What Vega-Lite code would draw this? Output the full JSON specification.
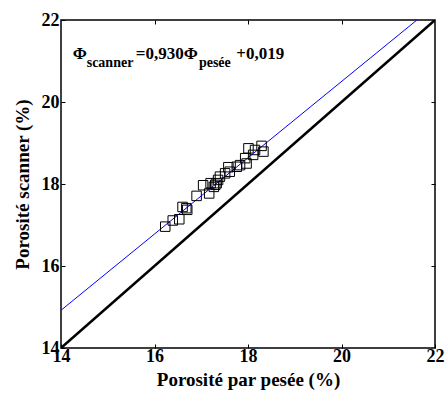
{
  "$schema": "https://vega.github.io/schema/vega-lite/v6.json",
  "width": 374,
  "height": 328,
  "autosize": {"type": "none"},
  "padding": {"left": 61, "top": 20, "right": 10, "bottom": 46},
  "config": {
    "view": {"stroke": "black", "strokeWidth": 1.5},
    "font": "Liberation Serif",
    "axis": {
      "labelFont": "Liberation Serif", "labelFontWeight": "bold", "labelFontSize": 18, "labelColor": "black",
      "titleFont": "Liberation Serif", "titleFontWeight": "bold", "titleFontSize": 19, "titleColor": "black",
      "grid": false, "domain": false, "tickColor": "black", "tickSize": -5, "tickWidth": 1, "labelFlush": false
    }
  },
  "datasets": {
    "pts": [
      {"x": 16.23, "y": 16.96}, {"x": 16.39, "y": 17.11}, {"x": 16.53, "y": 17.14},
      {"x": 16.60, "y": 17.44}, {"x": 16.70, "y": 17.37}, {"x": 16.68, "y": 17.41},
      {"x": 16.90, "y": 17.71}, {"x": 17.04, "y": 17.97}, {"x": 17.17, "y": 17.77},
      {"x": 17.20, "y": 18.02}, {"x": 17.27, "y": 17.93}, {"x": 17.33, "y": 18.02},
      {"x": 17.30, "y": 17.98}, {"x": 17.40, "y": 18.18}, {"x": 17.36, "y": 18.10},
      {"x": 17.51, "y": 18.26}, {"x": 17.58, "y": 18.41}, {"x": 17.61, "y": 18.30},
      {"x": 17.76, "y": 18.42}, {"x": 17.83, "y": 18.46}, {"x": 17.94, "y": 18.63},
      {"x": 17.97, "y": 18.50}, {"x": 18.01, "y": 18.87}, {"x": 18.11, "y": 18.71},
      {"x": 18.15, "y": 18.83}, {"x": 18.29, "y": 18.93}, {"x": 18.33, "y": 18.79}
    ],
    "diag": [{"x": 14, "y": 14}, {"x": 22, "y": 22}],
    "fit": [{"x": 14, "y": 14.92}, {"x": 21.613, "y": 22}],
    "eqmain": [
      {"t": "Φ", "x": 14.25, "y": 21.05},
      {"t": "=0,930Φ", "x": 15.6, "y": 21.05},
      {"t": "+0,019", "x": 17.75, "y": 21.05}
    ],
    "eqsub": [
      {"t": "scanner", "x": 14.55, "y": 20.86},
      {"t": "pesée", "x": 16.95, "y": 20.86}
    ]
  },
  "layer": [
    {
      "data": {"name": "diag"},
      "mark": {"type": "line", "color": "black", "strokeWidth": 2.5, "clip": true},
      "encoding": {
        "x": {"field": "x", "type": "quantitative", "scale": {"domain": [14, 22], "nice": false},
              "axis": {"values": [14, 16, 18, 20, 22], "title": "Porosité par pesée (%)", "labelPadding": 3, "titlePadding": 5,
                       "labelFlush": false, "tickSize": -4}},
        "y": {"field": "y", "type": "quantitative", "scale": {"domain": [14, 22], "nice": false},
              "axis": {"values": [14, 16, 18, 20, 22], "title": "Porosité scanner (%)", "labelPadding": 6, "titlePadding": 9,
                       "labelFlush": false, "tickSize": -4}}
      }
    },
    {
      "data": {"name": "diag"},
      "mark": {"type": "line", "opacity": 0},
      "encoding": {
        "x": {"field": "x", "type": "quantitative", "axis": {"orient": "top", "values": [16, 18, 20], "labels": false, "title": null, "tickSize": -4}},
        "y": {"field": "y", "type": "quantitative", "axis": {"orient": "right", "values": [16, 18, 20], "labels": false, "title": null, "tickSize": -4}}
      }
    },
    {
      "data": {"name": "fit"},
      "mark": {"type": "line", "color": "blue", "strokeWidth": 1, "clip": true},
      "encoding": {
        "x": {"field": "x", "type": "quantitative", "axis": null},
        "y": {"field": "y", "type": "quantitative", "axis": null}
      }
    },
    {
      "data": {"name": "pts"},
      "mark": {"type": "point", "shape": "square", "filled": false, "stroke": "black", "strokeWidth": 1, "size": 90, "opacity": 1},
      "encoding": {
        "x": {"field": "x", "type": "quantitative", "axis": null},
        "y": {"field": "y", "type": "quantitative", "axis": null}
      }
    },
    {
      "data": {"name": "eqmain"},
      "mark": {"type": "text", "align": "left", "baseline": "alphabetic", "fontWeight": "bold", "font": "Liberation Serif", "fontSize": 17, "color": "black"},
      "encoding": {
        "x": {"field": "x", "type": "quantitative", "axis": null},
        "y": {"field": "y", "type": "quantitative", "axis": null},
        "text": {"field": "t"}
      }
    },
    {
      "data": {"name": "eqsub"},
      "mark": {"type": "text", "align": "left", "baseline": "alphabetic", "fontWeight": "bold", "font": "Liberation Serif", "fontSize": 14, "color": "black"},
      "encoding": {
        "x": {"field": "x", "type": "quantitative", "axis": null},
        "y": {"field": "y", "type": "quantitative", "axis": null},
        "text": {"field": "t"}
      }
    }
  ],
  "resolve": {"axis": {"x": "independent", "y": "independent"}}
}
